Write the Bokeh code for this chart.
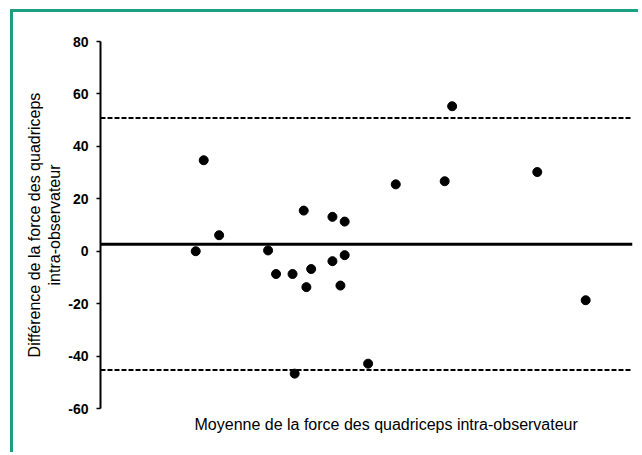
from bokeh.plotting import figure
from bokeh.models import Range1d, Span, FixedTicker, Title
from bokeh.embed import file_html
from bokeh.resources import INLINE

# Bland-Altman data (x: mean force, arbitrary units; y: difference)
mean_force = [17.9, 19.4, 22.3, 31.5, 33.0, 36.1, 38.2, 38.7, 39.6, 43.6, 45.9,
              43.6, 45.9, 45.1, 55.5, 50.3, 36.5, 64.7, 66.1, 82.1, 91.2]
diff_force = [0.0, 34.7, 6.1, 0.3, -8.7, -8.7, 15.5, -13.7, -6.8, 13.1, 11.3,
              -3.8, -1.5, -13.1, 25.5, -42.9, -46.7, 26.7, 55.3, 30.2, -18.7]
bias = 2.7
upper_loa = 50.8
lower_loa = -45.3
y_ticks = [-60, -40, -20, 0, 20, 40, 60, 80]
x_title = "Moyenne de la force des quadriceps intra-observateur"
y_title = "Différence de la force des quadriceps\nintra-observateur"

FONT = "Liberation Sans"
GREEN = "#1c9e80"

p = figure(width=628, height=443, output_backend="svg", toolbar_location=None,
           x_range=Range1d(0, 100), y_range=Range1d(-60, 80),
           x_axis_location=None,
           min_border_left=87, min_border_right=9, min_border_top=29, min_border_bottom=47)
p.outline_line_color = None
p.grid.visible = False
p.background_fill_color = "white"
p.border_fill_color = "white"

ax = p.yaxis[0]
ax.ticker = FixedTicker(ticks=y_ticks)
ax.major_label_overrides = {t: str(t) for t in y_ticks}
ax.minor_tick_line_color = None
ax.major_tick_in = 0
ax.major_tick_out = 4
ax.major_tick_line_width = 1.5
ax.axis_line_width = 2
ax.axis_line_color = "black"
ax.major_label_text_font = FONT
ax.major_label_text_font_size = "14px"
ax.major_label_text_font_style = "bold"
ax.major_label_text_color = "black"
ax.major_label_standoff = 8
ax.axis_label = y_title
ax.axis_label_text_font = FONT
ax.axis_label_text_font_size = "16px"
ax.axis_label_text_font_style = "normal"
ax.axis_label_text_color = "black"
ax.axis_label_standoff = 2

p.add_layout(Span(location=bias, dimension="width", line_color="black", line_width=3))
p.add_layout(Span(location=upper_loa, dimension="width", line_color="black", line_width=2, line_dash="5 2"))
p.add_layout(Span(location=lower_loa, dimension="width", line_color="black", line_width=2, line_dash="5 2"))

p.scatter(mean_force, diff_force, size=9, color="black")

t = Title(text=x_title, align="left", offset=94, text_font=FONT, text_font_size="16px",
          text_font_style="normal", text_color="black")
p.add_layout(t, "below")

p.styles = {"border-left": f"3px solid {GREEN}", "border-top": f"3px solid {GREEN}",
            "margin-left": "10px", "margin-top": "9px"}

open("out.html", "w").write(file_html(p, INLINE))
